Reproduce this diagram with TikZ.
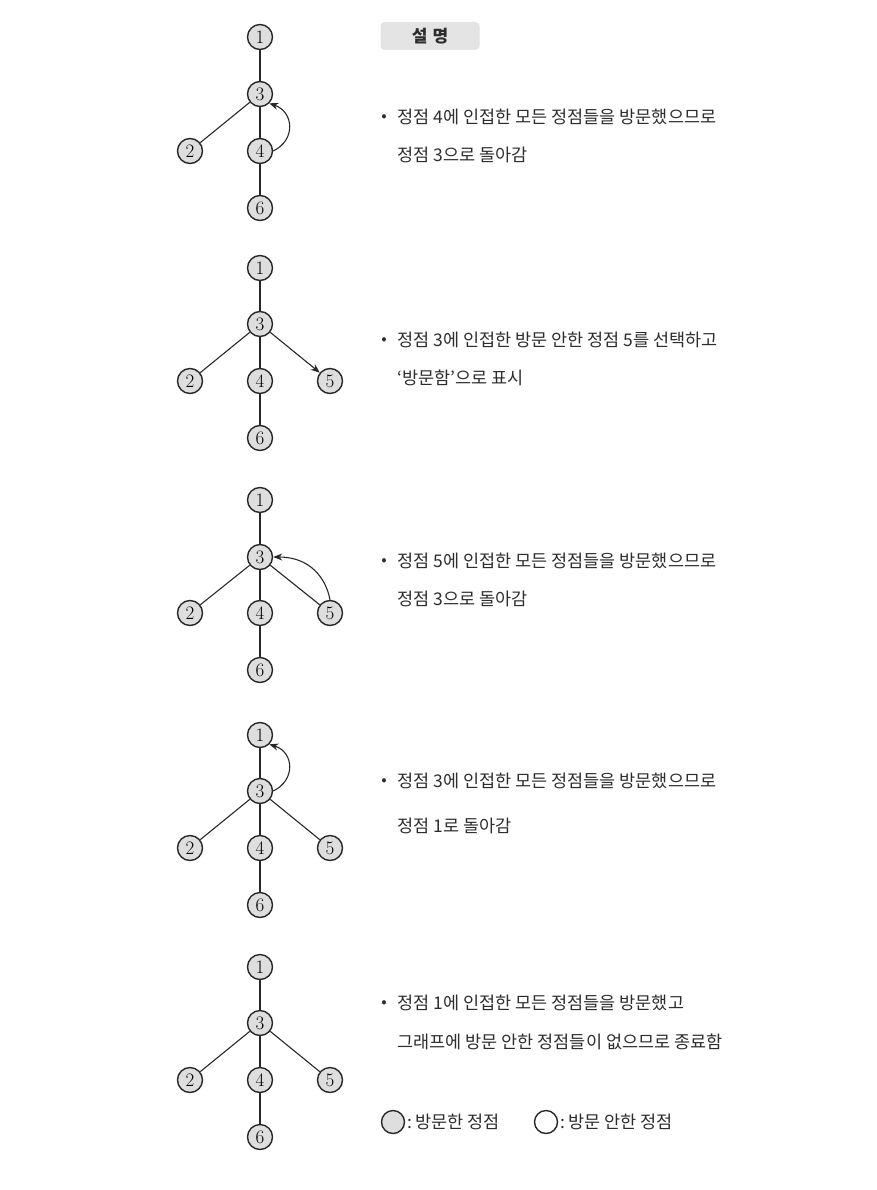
\documentclass[tikz,border=0pt]{standalone}
\usepackage{fontspec}
\newfontfamily\kr{Noto Sans CJK KR}
\usetikzlibrary{arrows.meta}
\definecolor{nodefill}{RGB}{222,222,222}
\definecolor{edgecol}{RGB}{40,40,40}
\definecolor{hdrfill}{RGB}{228,228,228}
\definecolor{txtcol}{RGB}{45,45,45}
\tikzset{
  vnode/.style={circle, draw=edgecol, line width=1.4pt, fill=nodefill, minimum size=25pt, inner sep=0pt, font=\fontsize{19}{19}\selectfont},
  unode/.style={vnode, fill=white},
  lgnode/.style={circle, draw=edgecol, line width=1.4pt, fill=nodefill, minimum size=23pt, inner sep=0pt},
  edge/.style={draw=edgecol, line width=1.1pt},
  backarrow/.style={draw=edgecol, line width=1.1pt, -{Stealth[length=9pt,width=7pt]}},
  desc/.style={anchor=west, inner sep=0pt, text=txtcol, font=\kr\fontsize{17.5}{17.5}\selectfont},
  bul/.style={anchor=center, inner sep=0pt, text=txtcol, font=\kr\fontsize{16}{16}\selectfont},
}
\begin{document}
\begin{tikzpicture}[x=1pt,y=-1pt]
\useasboundingbox (0,0) rectangle (876,1190);
% header
\node[fill=hdrfill, rounded corners=4pt, minimum width=99pt, minimum height=28pt, inner sep=0pt, font=\kr\bfseries\fontsize{17}{17}\selectfont, text=txtcol] (hdr) at (430,36) {설\hspace{5pt}명};

% ---------- panel 1 ----------
\node[vnode] (a1) at (260,37) {1};
\node[vnode] (a3) at (260,94) {3};
\node[vnode] (a2) at (190,151) {2};
\node[vnode] (a4) at (260,151) {4};
\node[vnode] (a6) at (260,208) {6};
\draw[edge] (a1) -- (a3); \draw[edge] (a3) -- (a2); \draw[edge] (a3) -- (a4); \draw[edge] (a4) -- (a6);
\draw[backarrow] (a4.east) .. controls (296,140) and (294,112) .. (a3.south east);
\node[bul] (ab) at (384,118) {•};
\node[desc] (at1) at (397,117) {정점 4에 인접한 모든 정점들을 방문했으므로};
\node[desc] (at2) at (397,155) {정점 3으로 돌아감};

% ---------- panel 2 ----------
\node[vnode] (b1) at (260,268) {1};
\node[vnode] (b3) at (260,324) {3};
\node[vnode] (b2) at (190,381) {2};
\node[vnode] (b4) at (260,381) {4};
\node[vnode] (b5) at (330,381) {5};
\node[vnode] (b6) at (260,438) {6};
\draw[edge] (b1) -- (b3); \draw[edge] (b3) -- (b2); \draw[edge] (b3) -- (b4); \draw[edge] (b4) -- (b6);
\draw[backarrow] (b3) -- (b5);
\node[bul] (bb) at (384,341) {•};
\node[desc] (bt1) at (397,340) {정점 3에 인접한 방문 안한 정점 5를 선택하고};
\node[desc] (bt2) at (397,378) {‘방문함’으로 표시};

% ---------- panel 3 ----------
\node[vnode] (c1) at (260,500) {1};
\node[vnode] (c3) at (260,557) {3};
\node[vnode] (c2) at (190,613) {2};
\node[vnode] (c4) at (260,613) {4};
\node[vnode] (c5) at (330,613) {5};
\node[vnode] (c6) at (260,670) {6};
\draw[edge] (c1) -- (c3); \draw[edge] (c3) -- (c2); \draw[edge] (c3) -- (c4); \draw[edge] (c4) -- (c6); \draw[edge] (c3) -- (c5);
\draw[backarrow] (c5.north) .. controls (326,578) and (310,557) .. (c3.east);
\node[bul] (cb) at (384,562) {•};
\node[desc] (ct1) at (397,561) {정점 5에 인접한 모든 정점들을 방문했으므로};
\node[desc] (ct2) at (397,599) {정점 3으로 돌아감};

% ---------- panel 4 ----------
\node[vnode] (d1) at (260,735) {1};
\node[vnode] (d3) at (260,791) {3};
\node[vnode] (d2) at (190,848) {2};
\node[vnode] (d4) at (260,848) {4};
\node[vnode] (d5) at (330,848) {5};
\node[vnode] (d6) at (260,905) {6};
\draw[edge] (d1) -- (d3); \draw[edge] (d3) -- (d2); \draw[edge] (d3) -- (d4); \draw[edge] (d4) -- (d6); \draw[edge] (d3) -- (d5);
\draw[backarrow] (d3.east) .. controls (296,780) and (294,752) .. (d1.south east);
\node[bul] (db) at (384,782) {•};
\node[desc] (dt1) at (397,781) {정점 3에 인접한 모든 정점들을 방문했으므로};
\node[desc] (dt2) at (397,826) {정점 1로 돌아감};

% ---------- panel 5 ----------
\node[vnode] (e1) at (260,967) {1};
\node[vnode] (e3) at (260,1023) {3};
\node[vnode] (e2) at (190,1080) {2};
\node[vnode] (e4) at (260,1080) {4};
\node[vnode] (e5) at (330,1080) {5};
\node[vnode] (e6) at (260,1137) {6};
\draw[edge] (e1) -- (e3); \draw[edge] (e3) -- (e2); \draw[edge] (e3) -- (e4); \draw[edge] (e4) -- (e6); \draw[edge] (e3) -- (e5);
\node[bul] (eb) at (384,1004) {•};
\node[desc] (et1) at (397,1003) {정점 1에 인접한 모든 정점들을 방문했고};
\node[desc] (et2) at (397,1042) {그래프에 방문 안한 정점들이 없으므로 종료함};

% ---------- legend ----------
\node[lgnode] (lg1) at (393,1122) {};
\node[desc] (lt1) at (407,1122) {:\hspace{3pt}방문한 정점};
\node[lgnode, fill=white] (lg2) at (546,1122) {};
\node[desc] (lt2) at (560,1122) {:\hspace{3pt}방문 안한 정점};
\end{tikzpicture}
\end{document}
